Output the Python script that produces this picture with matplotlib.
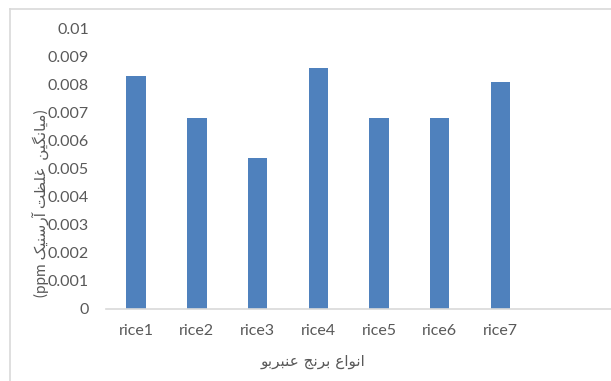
import matplotlib
matplotlib.use("Agg")
import matplotlib.pyplot as plt
from matplotlib.lines import Line2D

# arsenic concentration per rice sample (ppm)
categories = ["rice1", "rice2", "rice3", "rice4", "rice5", "rice6", "rice7"]
values = [0.0083, 0.0068, 0.0054, 0.0086, 0.0068, 0.0068, 0.0081]
ytick_values = [0, 0.001, 0.002, 0.003, 0.004, 0.005, 0.006, 0.007, 0.008, 0.009, 0.01]
ytick_labels = ["0", "0.001", "0.002", "0.003", "0.004", "0.005",
                "0.006", "0.007", "0.008", "0.009", "0.01"]


def visual(forms):
    # forms are already contextual glyphs in logical order -> reverse for LTR drawing
    return "".join(reversed(forms))


# انواع برنج عنبربو  (shaped with presentation forms)
w_anva = "\uFE8D\uFEE7\uFEEE\uFE8D\uFEC9"
w_berenj = "\uFE91\uFEAE\uFEE7\uFE9E"
w_anbarbo = "\uFECB\uFEE8\uFE92\uFEAE\uFE91\uFEEE"
xlabel_text = visual(w_anbarbo) + " " + visual(w_berenj) + " " + visual(w_anva)

# میانگین غلظت آرسنیک (ppm)
w_arsenic = "\uFE81\uFEAD\uFEB3\uFEE8\uFBFF\uFB8F"
w_ghelzat = "\uFECF\uFEE0\uFEC8\uFE96"
w_miangin = "\uFEE3\uFBFF\uFE8E\uFEE7\uFB95\uFBFF\uFEE6"
ylabel_text = ("(ppm " + visual(w_arsenic) + " " + visual(w_ghelzat)
               + "  " + visual(w_miangin) + ")")

plt.rcParams['font.family'] = ['Lato', 'DejaVu Sans']
text_color = "#595959"
line_color = "#d9d9d9"

fig = plt.figure(figsize=(6.11, 3.81), dpi=100)
ax = fig.add_axes([0.173, 0.189, 0.827, 0.736])

x = list(range(len(categories)))
ax.bar(x, values, width=0.32, color="#4f81bd", zorder=2)

ax.set_xlim(-0.5, 7.82)
ax.set_ylim(0, 0.01)
ax.set_yticks(ytick_values)
ax.set_yticklabels(ytick_labels)
ax.set_xticks(x)
ax.set_xticklabels(categories)
ax.tick_params(axis="both", length=0, labelsize=11.5, labelcolor=text_color)
ax.tick_params(axis="y", pad=12)
ax.tick_params(axis="x", pad=11)

for side in ["top", "right", "left"]:
    ax.spines[side].set_visible(False)
ax.spines["bottom"].set_color(line_color)
ax.spines["bottom"].set_linewidth(1.2)

fig.text(0.513, 0.05, xlabel_text, ha="center", va="center", fontsize=11,
         color=text_color, family="DejaVu Sans")
fig.text(0.066, 0.467, ylabel_text, ha="center", va="center", rotation=90,
         fontsize=11, color=text_color, family=["Lato", "DejaVu Sans"])

# outer chart frame (left and top edges)
W, H = 611, 381
fig.add_artist(Line2D([9.5 / W, 9.5 / W], [0, 1 - 8.5 / H],
                      transform=fig.transFigure, color=line_color, lw=1.2))
fig.add_artist(Line2D([9.5 / W, 1], [1 - 8.5 / H, 1 - 8.5 / H],
                      transform=fig.transFigure, color=line_color, lw=1.2))

fig.savefig("out.png", dpi=100, facecolor="white")
